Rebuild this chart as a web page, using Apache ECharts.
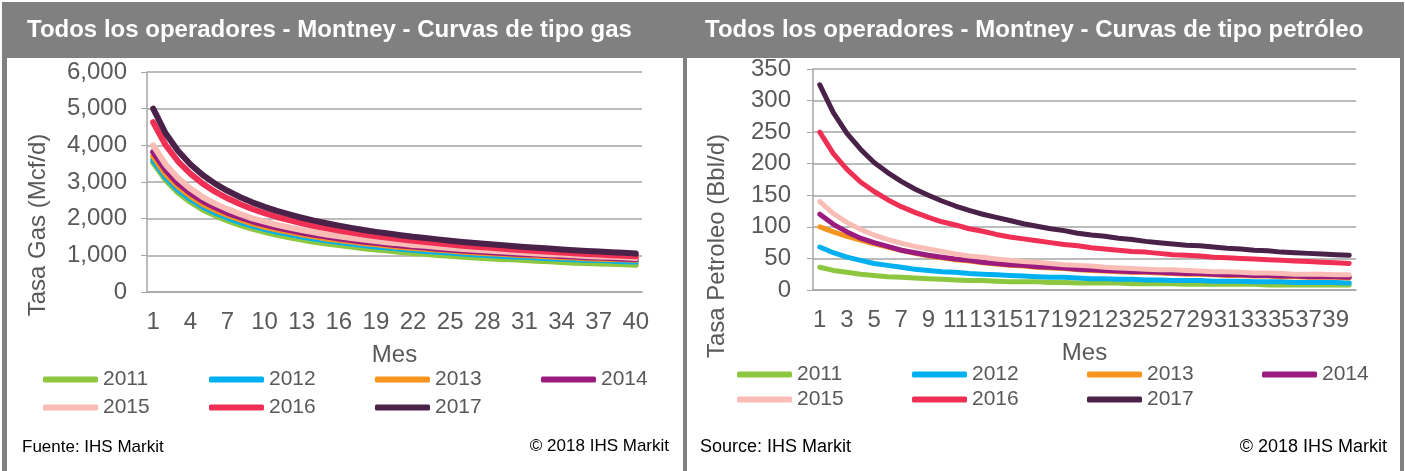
<!DOCTYPE html>
<html>
<head>
<meta charset="utf-8">
<script src="https://cdn.jsdelivr.net/npm/echarts@6/dist/echarts.min.js"></script>
<style>
  html, body { margin: 0; padding: 0; background: #fff; }
  #chart { width: 1405px; height: 471px; }
</style>
</head>
<body>
<div id="chart"></div>
<script>
// meses 1..40
var months = [1, 2, 3, 4, 5, 6, 7, 8, 9, 10, 11, 12, 13, 14, 15, 16, 17, 18, 19, 20,
    21, 22, 23, 24, 25, 26, 27, 28, 29, 30, 31, 32, 33, 34, 35, 36, 37, 38, 39, 40];
var years = ['2011', '2012', '2013', '2014', '2015', '2016', '2017'];
var colors = ['#8dc63f', '#00b0f0', '#f7941d', '#9b1b7e', '#f9bdb6', '#ef3054', '#4a2148'];

// gas (Mcf/d)
var gas2011 = [3530, 3060, 2720, 2460, 2250, 2090, 1950, 1830, 1730, 1640, 1560, 1490, 1430, 1370, 1320, 1280, 1240, 1190, 1160, 1130,
    1090, 1060, 1040, 1010, 990, 960, 940, 920, 900, 890, 870, 850, 840, 820, 800, 790, 780, 770, 760, 740];
var gas2012 = [3600, 3130, 2790, 2540, 2330, 2170, 2030, 1910, 1810, 1720, 1640, 1580, 1510, 1460, 1410, 1360, 1320, 1280, 1240, 1210,
    1180, 1150, 1120, 1100, 1080, 1050, 1030, 1010, 990, 970, 960, 940, 920, 910, 890, 880, 870, 860, 840, 830];
var gas2013 = [3700, 3220, 2880, 2620, 2400, 2240, 2100, 1980, 1870, 1780, 1700, 1640, 1570, 1520, 1460, 1420, 1380, 1330, 1300, 1260,
    1230, 1200, 1180, 1150, 1130, 1100, 1080, 1060, 1040, 1020, 1000, 990, 970, 950, 940, 920, 910, 900, 890, 880];
var gas2014 = [3820, 3330, 2970, 2700, 2480, 2310, 2160, 2040, 1930, 1840, 1760, 1690, 1620, 1560, 1510, 1460, 1420, 1370, 1340, 1300,
    1270, 1240, 1210, 1180, 1160, 1130, 1110, 1090, 1070, 1050, 1030, 1020, 1000, 980, 970, 950, 940, 930, 910, 900];
var gas2015 = [4000, 3480, 3110, 2820, 2590, 2410, 2260, 2130, 2010, 1920, 1830, 1760, 1690, 1630, 1570, 1520, 1470, 1430, 1390, 1350,
    1320, 1280, 1260, 1230, 1200, 1170, 1150, 1130, 1110, 1090, 1070, 1050, 1030, 1020, 1000, 980, 970, 960, 950, 930];
var gas2016 = [4630, 4010, 3565, 3227, 2954, 2736, 2556, 2398, 2264, 2148, 2046, 1958, 1875, 1801, 1736, 1676, 1620, 1565, 1519, 1477,
    1435, 1394, 1361, 1329, 1296, 1264, 1236, 1213, 1185, 1162, 1139, 1116, 1097, 1074, 1056, 1037, 1023, 1005, 991, 972];
var gas2017 = [5000, 4330, 3850, 3485, 3190, 2955, 2760, 2590, 2445, 2320, 2210, 2115, 2025, 1945, 1875, 1810, 1750, 1690, 1640, 1595,
    1550, 1505, 1470, 1435, 1400, 1365, 1335, 1310, 1280, 1255, 1230, 1205, 1185, 1160, 1140, 1120, 1105, 1085, 1070, 1050];

// petroleo (Bbl/d)
var oil2011 = [36, 31, 28, 25, 23, 21, 20, 19, 18, 17, 16, 15, 15, 14, 13, 13, 13, 12, 12, 11,
    11, 11, 11, 10, 10, 10, 10, 9, 9, 9, 9, 9, 9, 8, 8, 8, 8, 8, 8, 8];
var oil2012 = [68, 59, 52, 47, 42, 39, 36, 33, 31, 29, 28, 26, 25, 24, 23, 22, 21, 20, 20, 19,
    18, 18, 17, 17, 16, 16, 15, 15, 15, 14, 14, 14, 13, 13, 13, 12, 12, 12, 12, 11];
var oil2013 = [100, 92, 85, 79, 73, 68, 63, 58, 54, 51, 48, 46, 43, 41, 39, 38, 36, 35, 34, 32,
    31, 30, 29, 28, 28, 27, 26, 25, 25, 24, 23, 23, 22, 22, 21, 21, 20, 20, 20, 19];
var oil2014 = [120, 104, 92, 82, 75, 69, 63, 59, 55, 52, 49, 47, 44, 42, 40, 39, 37, 36, 35, 33,
    32, 31, 30, 29, 29, 28, 27, 26, 26, 25, 24, 24, 23, 23, 22, 22, 21, 21, 21, 20];
var oil2015 = [140, 121, 107, 96, 87, 80, 74, 69, 65, 61, 57, 54, 52, 49, 47, 45, 44, 42, 40, 39,
    38, 36, 35, 34, 33, 32, 32, 31, 30, 29, 29, 28, 27, 27, 26, 25, 25, 25, 24, 24];
var oil2016 = [250, 216, 191, 171, 156, 143, 132, 123, 115, 108, 103, 97, 93, 88, 84, 81, 78, 75, 72, 70,
    67, 65, 63, 61, 60, 58, 56, 55, 54, 52, 51, 50, 49, 48, 47, 46, 45, 44, 43, 42];
var oil2017 = [325, 281, 248, 223, 202, 186, 172, 160, 150, 141, 133, 126, 120, 115, 110, 105, 101, 97, 94, 90,
    87, 85, 82, 80, 77, 75, 73, 71, 70, 68, 66, 65, 63, 62, 60, 59, 58, 57, 56, 55];

var gasData = [gas2011, gas2012, gas2013, gas2014, gas2015, gas2016, gas2017];
var oilData = [oil2011, oil2012, oil2013, oil2014, oil2015, oil2016, oil2017];

var FONT = '"Liberation Sans", Arial, sans-serif';
var GREY = '#595959';
var LINE = '#a6a6a6';

var chartDom = document.getElementById('chart');
var myChart = echarts.init(chartDom);
var option;

var series = [];
years.forEach(function (y, i) {
    series.push({
        name: y, type: 'line', xAxisIndex: 0, yAxisIndex: 0,
        data: gasData[i], showSymbol: false, color: colors[i],
        lineStyle: { width: 6, cap: 'round', join: 'round' }
    });
});
years.forEach(function (y, i) {
    series.push({
        name: y, type: 'line', xAxisIndex: 1, yAxisIndex: 1,
        data: oilData[i], showSymbol: false, color: colors[i],
        lineStyle: { width: 5, cap: 'round', join: 'round' }
    });
});

// una leyenda por item, 4 columnas (como en Excel)
var legends = [];
years.forEach(function (y, i) {
    var col = i % 4, row = Math.floor(i / 4);
    var common = {
        data: [y], padding: 0, orient: 'horizontal',
        itemWidth: 55, itemHeight: 6, icon: 'roundRect',
        textStyle: { fontSize: 21, color: GREY, fontFamily: FONT }
    };
    legends.push(Object.assign({ left: 43 + col * 166, top: 369 + row * 28 }, common));
    legends.push(Object.assign({ left: 737 + col * 175, top: 364 + row * 25 }, common));
});

function xAx(idx, interval) {
    return {
        type: 'category', gridIndex: idx, data: months,
        name: 'Mes', nameLocation: 'middle', nameGap: 51,
        nameTextStyle: { fontSize: 24, color: GREY, fontFamily: FONT },
        axisLine: { lineStyle: { color: LINE, width: 1.5 } },
        axisTick: { interval: 0, length: 6, lineStyle: { color: LINE } },
        axisLabel: { interval: interval, margin: 18, fontSize: 24, color: GREY, fontFamily: FONT }
    };
}

option = {
    animation: false,
    backgroundColor: '#fff',
    grid: [
        { left: 147, top: 72, width: 495, height: 220 },
        { left: 813, top: 69, width: 543, height: 221 }
    ],
    xAxis: [xAx(0, 2), xAx(1, 1)],
    yAxis: [
        {
            type: 'value', gridIndex: 0, min: 0, max: 6000, interval: 1000,
            axisLine: { show: true, lineStyle: { color: LINE, width: 1.5 } },
            axisTick: { show: true, length: 6, lineStyle: { color: LINE } },
            splitLine: { lineStyle: { color: LINE, width: 1.5 } },
            axisLabel: {
                margin: 20, fontSize: 24, color: GREY, fontFamily: FONT,
                formatter: function (v) { return v.toLocaleString('en-US'); }
            }
        },
        {
            type: 'value', gridIndex: 1, min: 0, max: 350, interval: 50,
            axisLine: { show: true, lineStyle: { color: LINE, width: 1.5 } },
            axisTick: { show: true, length: 6, lineStyle: { color: LINE } },
            splitLine: { lineStyle: { color: LINE, width: 1.5 } },
            axisLabel: { margin: 22, fontSize: 24, color: GREY, fontFamily: FONT }
        }
    ],
    legend: legends,
    graphic: [
        // marco gris + cabeceras
        { type: 'rect', z: -10, silent: true, shape: { x: 2, y: 2, width: 1402, height: 469 }, style: { fill: '#808080' } },
        { type: 'rect', z: -9, silent: true, shape: { x: 7, y: 58, width: 676, height: 413 }, style: { fill: '#fff' } },
        { type: 'rect', z: -9, silent: true, shape: { x: 687, y: 58, width: 713, height: 413 }, style: { fill: '#fff' } },
        { type: 'text', z: 10, left: 27, top: 18, style: { text: 'Todos los operadores - Montney - Curvas de tipo gas', fill: '#fff', font: 'bold 24px ' + FONT } },
        { type: 'text', z: 10, left: 705, top: 18, style: { text: 'Todos los operadores - Montney - Curvas de tipo petróleo', fill: '#fff', font: 'bold 24px ' + FONT } },
        // titulos eje y
        { type: 'text', z: 10, x: 38, y: 225, rotation: Math.PI / 2, style: { text: 'Tasa Gas (Mcf/d)', fill: GREY, font: '24px ' + FONT, align: 'center', verticalAlign: 'middle' } },
        { type: 'text', z: 10, x: 717, y: 246, rotation: Math.PI / 2, style: { text: 'Tasa Petroleo (Bbl/d)', fill: GREY, font: '24px ' + FONT, align: 'center', verticalAlign: 'middle' } },
        // pie
        { type: 'text', z: 10, x: 22, y: 447, style: { text: 'Fuente: IHS Markit', fill: '#000', font: '17px ' + FONT, verticalAlign: 'middle' } },
        { type: 'text', z: 10, x: 669, y: 446, style: { text: '© 2018 IHS Markit', fill: '#000', font: '17px ' + FONT, align: 'right', verticalAlign: 'middle' } },
        { type: 'text', z: 10, x: 700, y: 447, style: { text: 'Source: IHS Markit', fill: '#000', font: '18px ' + FONT, verticalAlign: 'middle' } },
        { type: 'text', z: 10, x: 1387, y: 447, style: { text: '© 2018 IHS Markit', fill: '#000', font: '18px ' + FONT, align: 'right', verticalAlign: 'middle' } }
    ],
    series: series
};

option && myChart.setOption(option);
</script>
</body>
</html>
